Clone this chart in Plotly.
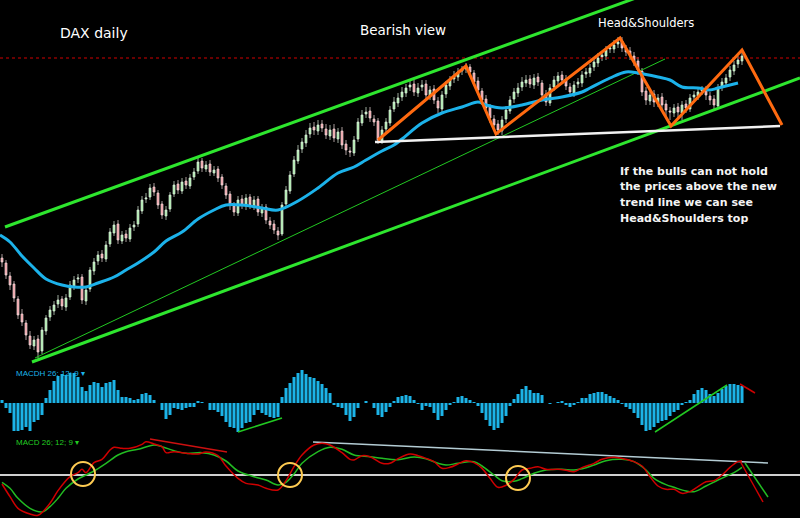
import plotly.graph_objects as go
from plotly.subplots import make_subplots

# ---- daily candles (index points), one per bar ----
bars = list(range(186))
opens = [7420, 7370, 7240, 7160, 7010, 6860, 6770, 6640, 6540, 6610,
         6490, 6690, 6830, 6890, 6960, 7010, 6930, 7030, 7140, 7210,
         7230, 6990, 7110, 7290, 7390, 7460, 7410, 7560, 7670, 7760,
         7590, 7660, 7610, 7730, 7760, 7890, 8010, 8030, 8130, 8070,
         7960, 7840, 7910, 8060, 8160, 8090, 8190, 8140, 8230, 8290,
         8390, 8310, 8360, 8270, 8310, 8230, 8140, 8060, 7940, 7870,
         8010, 7940, 8030, 7940, 8010, 7870, 7930, 7790, 7760, 7690,
         7660, 7960, 8090, 8260, 8390, 8510, 8570, 8660, 8730, 8690,
         8760, 8710, 8640, 8710, 8610, 8690, 8560, 8490, 8470, 8610,
         8770, 8860, 8890, 8810, 8790, 8590, 8710, 8770, 8910, 8970,
         9030, 9070, 9130, 9160, 9070, 9130, 9160, 9040, 9110, 8990,
         8910, 9060, 9140, 9210, 9230, 9290, 9310, 9330, 9270, 9190,
         9090, 9010, 8930, 8810, 8760, 8690, 8810, 8890, 9010, 9070,
         9130, 9170, 9210, 9150, 9230, 9170, 9060, 8970, 9130, 9190,
         9250, 9210, 9130, 9070, 9160, 9170, 9260, 9270, 9330, 9370,
         9430, 9440, 9510, 9510, 9560, 9590, 9510, 9490, 9440, 9390,
         9290, 9090, 8990, 9060, 8970, 9030, 8960, 8890, 8870, 8930,
         8870, 8960, 8910, 9030, 9040, 9090, 9110, 9040, 9010, 8940,
         9130, 9170, 9230, 9290, 9360, 9390]
highs = [7460, 7400, 7280, 7190, 7040, 6910, 6800, 6690, 6640, 6650,
         6730, 6850, 6940, 6990, 7050, 7040, 7060, 7190, 7240, 7260,
         7260, 7130, 7330, 7420, 7490, 7500, 7590, 7720, 7790, 7800,
         7690, 7700, 7760, 7790, 7940, 8040, 8070, 8160, 8170, 8100,
         7990, 7940, 8080, 8190, 8200, 8220, 8230, 8260, 8320, 8430,
         8420, 8390, 8400, 8340, 8340, 8260, 8170, 8090, 7980, 8040,
         8050, 8060, 8060, 8040, 8040, 7960, 7960, 7830, 7800, 7730,
         7980, 8140, 8290, 8440, 8550, 8620, 8700, 8770, 8780, 8800,
         8800, 8760, 8750, 8760, 8720, 8730, 8600, 8530, 8640, 8820,
         8900, 8930, 8930, 8850, 8820, 8740, 8820, 8940, 9030, 9070,
         9130, 9160, 9200, 9200, 9170, 9200, 9200, 9140, 9150, 9030,
         9090, 9190, 9240, 9290, 9320, 9340, 9370, 9360, 9300, 9230,
         9120, 9050, 8960, 8850, 8800, 8840, 8940, 9040, 9120, 9170,
         9230, 9250, 9250, 9260, 9270, 9200, 9100, 9160, 9240, 9280,
         9290, 9250, 9170, 9190, 9220, 9290, 9320, 9360, 9420, 9470,
         9490, 9540, 9560, 9600, 9630, 9630, 9550, 9530, 9480, 9430,
         9320, 9130, 9090, 9100, 9060, 9070, 9000, 8930, 8960, 8970,
         8990, 9000, 9060, 9090, 9130, 9140, 9140, 9080, 9050, 9160,
         9220, 9260, 9340, 9390, 9440, 9480]
lows = [7330, 7210, 7100, 6980, 6810, 6740, 6600, 6510, 6500, 6420,
        6460, 6650, 6790, 6850, 6920, 6900, 6890, 7000, 7100, 7170,
        6960, 6950, 7080, 7250, 7350, 7380, 7380, 7530, 7640, 7560,
        7560, 7580, 7580, 7690, 7730, 7860, 7970, 8000, 8040, 7910,
        7810, 7800, 7880, 8030, 8060, 8060, 8110, 8110, 8200, 8260,
        8280, 8280, 8240, 8240, 8180, 8110, 8010, 7900, 7840, 7840,
        7910, 7900, 7910, 7900, 7840, 7830, 7760, 7710, 7660, 7600,
        7640, 7930, 8060, 8230, 8360, 8470, 8530, 8620, 8650, 8650,
        8680, 8610, 8600, 8580, 8570, 8510, 8450, 8430, 8440, 8580,
        8740, 8820, 8780, 8740, 8560, 8560, 8680, 8740, 8880, 8930,
        8990, 9030, 9090, 9040, 9030, 9090, 9000, 9000, 8960, 8870,
        8880, 9020, 9100, 9170, 9190, 9250, 9270, 9240, 9140, 9050,
        8950, 8870, 8770, 8700, 8650, 8650, 8770, 8860, 8970, 9030,
        9090, 9130, 9120, 9110, 9140, 9000, 8940, 8940, 9090, 9150,
        9160, 9100, 9030, 9030, 9120, 9130, 9220, 9230, 9290, 9330,
        9390, 9400, 9470, 9470, 9520, 9480, 9440, 9400, 9340, 9250,
        9040, 8950, 8950, 8930, 8930, 8900, 8820, 8800, 8830, 8810,
        8800, 8870, 8880, 8990, 9000, 9050, 9000, 8950, 8890, 8910,
        9090, 9130, 9190, 9250, 9320, 9350]
closes = [7380, 7250, 7150, 7020, 6850, 6780, 6650, 6550, 6600, 6480,
          6700, 6820, 6900, 6950, 7000, 6940, 7020, 7150, 7200, 7220,
          7000, 7100, 7300, 7380, 7450, 7420, 7550, 7680, 7750, 7600,
          7650, 7620, 7720, 7750, 7900, 8000, 8020, 8120, 8080, 7950,
          7850, 7900, 8050, 8150, 8100, 8180, 8150, 8220, 8280, 8380,
          8320, 8350, 8280, 8300, 8220, 8150, 8050, 7950, 7880, 8000,
          7950, 8020, 7950, 8000, 7880, 7920, 7800, 7750, 7700, 7650,
          7950, 8100, 8250, 8400, 8500, 8580, 8650, 8720, 8700, 8750,
          8720, 8650, 8700, 8620, 8680, 8550, 8500, 8480, 8600, 8780,
          8850, 8880, 8820, 8780, 8600, 8700, 8780, 8900, 8980, 9020,
          9080, 9120, 9150, 9080, 9120, 9150, 9050, 9100, 9000, 8920,
          9050, 9150, 9200, 9240, 9280, 9300, 9320, 9280, 9180, 9100,
          9000, 8920, 8820, 8750, 8700, 8800, 8900, 9000, 9080, 9120,
          9180, 9200, 9160, 9220, 9180, 9050, 8980, 9120, 9200, 9240,
          9200, 9140, 9080, 9150, 9180, 9250, 9280, 9320, 9380, 9420,
          9450, 9500, 9520, 9550, 9580, 9520, 9480, 9450, 9380, 9300,
          9080, 9000, 9050, 8980, 9020, 8950, 8900, 8880, 8920, 8880,
          8950, 8920, 9020, 9050, 9080, 9100, 9050, 9000, 8950, 9120,
          9180, 9220, 9300, 9350, 9400, 9440]

# moving average (blue), read at sample bars
ma_x = [-0.5, 2, 5, 8, 11, 15, 18, 21, 24, 28, 31, 34, 38, 41, 45, 49, 53, 56, 60, 65,
        69, 74, 79, 84, 88, 91, 95, 98, 100, 105, 110, 115, 119, 121, 125, 130, 135,
        140, 145, 147, 152, 156, 159, 164, 167, 170, 174, 177, 179, 182, 184]
ma_v = [7650, 7580, 7440, 7320, 7210, 7150, 7130, 7130, 7170, 7230, 7300, 7370, 7480,
        7590, 7680, 7810, 7900, 7950, 7950, 7920, 7900, 7990, 8120, 8270, 8330, 8400,
        8490, 8550, 8610, 8770, 8870, 8930, 8980, 8950, 8920, 8950, 9000, 9030, 9080,
        9120, 9220, 9280, 9270, 9230, 9200, 9130, 9120, 9100, 9120, 9150, 9170]

# MACD histogram, one value per bar
macdh = [3, -5, -10, -28, -28, -27, -24, -28, -19, -17,
         -12, 5, 13, 22, 27, 29, 28, 30, 30, 26,
         16, 12, 18, 21, 20, 16, 20, 21, 23, 13,
         6, 6, 5, 3, 4, 9, 10, 8, 3, 0,
         -7, -16, -12, -5, -6, -7, -5, -4, -4, 2,
         1, 0, -7, -7, -9, -13, -19, -24, -25, -29,
         -25, -20, -19, -12, -7, -10, -12, -14, -15, -14,
         6, 15, 20, 26, 30, 33, 29, 26, 25, 22,
         19, 15, 10, -2, -4, -5, -12, -18, -14, -5,
         0, 2, 0, -5, -12, -14, -9, -4, 2, 6,
         7, 8, 7, 3, -1, -7, -3, -4, -10, -17,
         -13, -7, -2, 1, 6, 7, 5, 3, 1, -3,
         -10, -17, -23, -27, -25, -20, -13, -3, 4, 9,
         14, 17, 13, 10, 10, 8, 0, -1, 0, 1,
         2, -2, -4, -2, 1, 5, 5, 9, 10, 11,
         11, 9, 7, 5, 3, -1, -4, -6, -10, -15,
         -22, -28, -27, -24, -20, -18, -17, -13, -9, -7,
         -2, 1, 3, 9, 13, 15, 13, 9, 7, 10,
         14, 17, 19, 19, 18, 17]

# MACD (red) and signal (green)
macd_x = [0, 2, 4, 7, 9, 12, 14, 17, 19, 20, 21, 23, 25, 27, 28, 30, 32, 35, 36, 38,
          40, 41, 43, 46, 49, 51, 54, 56, 59, 61, 64, 66, 69, 71, 73, 75, 78, 80, 82,
          85, 87, 88, 90, 92, 95, 97, 99, 102, 104, 106, 108, 110, 112, 114, 116, 118,
          120, 122, 124, 126, 128, 130, 132, 134, 136, 139, 141, 143, 145, 148, 150,
          153, 156, 158, 160, 162, 164, 166, 168, 170, 172, 174, 176, 178, 180, 182,
          184, 185]
macd_v = [-27, -65, -100, -117, -121, -85, -47, -5, 7, 17, 7, 37, 47, 75, 83, 80, 80,
          92, 100, 93, 85, 67, 70, 65, 63, 69, 58, 27, -10, -25, -30, -40, -45, -17,
          25, 60, 90, 95, 90, 67, 47, 45, 58, 55, 35, 35, 49, 63, 58, 50, 40, 20, 23,
          33, 43, 37, 20, -10, -37, -31, -13, 15, 20, 25, 17, 17, 14, 10, 22, 35, 47,
          53, 47, 40, 27, -5, -33, -43, -43, -55, -50, -35, -20, -17, 0, 23, 40, 43]
signal_x = [0, 2, 4, 7, 10, 12, 14, 16, 19, 21, 23, 26, 29, 31, 34, 38, 40, 43, 46,
            50, 53, 56, 59, 63, 66, 69, 71, 73, 75, 79, 82, 85, 88, 92, 95, 99, 103,
            106, 109, 111, 114, 118, 120, 123, 125, 128, 130, 133, 136, 140, 143, 146,
            148, 151, 155, 158, 161, 163, 166, 168, 171, 173, 176, 179, 183, 185]
signal_v = [-22, -40, -70, -100, -111, -95, -70, -40, -12, 0, 12, 35, 60, 70, 77, 90,
            85, 73, 65, 67, 60, 42, 12, -5, -15, -30, -22, 3, 35, 70, 83, 77, 60, 55,
            50, 46, 54, 49, 35, 30, 35, 40, 27, 0, -17, -19, -11, 5, 15, 17, 15, 22,
            30, 43, 47, 40, 15, -10, -29, -37, -48, -50, -33, -15, 7, 23]

# hand-drawn analysis on the price panel
upper_x, upper_y = [0.75, 199.5], [7730, 10616]
lower_x, lower_y = [7.5, 199.5], [6380, 9220]
thin_x, thin_y = [8.25, 165.75], [6420, 9410]
neck_x, neck_y = [93.25, 194.5], [8580, 8740]
hs_x = [94, 116, 123.5, 154.5, 167.25, 185, 195]
hs_y = [8600, 9340, 8660, 9620, 8740, 9500, 8750]
resist = 9420

# hand-drawn analysis on the indicator panels
hg1_x, hg1_y = [59, 70], [-29, -15]
hg2_x, hg2_y = [163.25, 181.25], [-29, 18]
hr_x, hr_y = [184.5, 188.25], [19, 10]
red_drop_x, red_drop_y = [184.5, 190.25], [42, -81]
grn_drop_x, grn_drop_y = [185.75, 191.5], [36, -66]
gray_x, gray_y = [77.75, 191.5], [99, 36]
red_tr_x, red_tr_y = [37, 56.25], [108, 69]
circ_x, circ_y = [20.25, 72, 129], [3, 0, -9]

note_lines = ["If the bulls can not hold", "the prices above the new",
              "trend line we can see", "Head&Shoulders top"]

GREEN = "#2ee62e"

fig = make_subplots(rows=3, cols=1, shared_xaxes=True, vertical_spacing=0,
                    row_heights=[365, 70, 83])


def line(x, y, color, width, row, dash="solid", shape="linear"):
    fig.add_trace(go.Scatter(x=x, y=y, mode="lines", hoverinfo="skip",
                             line=dict(color=color, width=width, dash=dash, shape=shape)),
                  row=row, col=1)


# price panel
line([-0.5, 199.5], [resist, resist], "#d00000", 1.2, 1, dash="dot")
line(thin_x, thin_y, "#22c822", 1, 1)
line(upper_x, upper_y, GREEN, 3, 1)
line(lower_x, lower_y, GREEN, 3, 1)
fig.add_trace(go.Candlestick(
    x=bars, open=opens, high=highs, low=lows, close=closes, whiskerwidth=0,
    increasing=dict(line=dict(color="#dcefdc", width=0.7), fillcolor="#a6eca6"),
    decreasing=dict(line=dict(color="#f0dcdc", width=0.7), fillcolor="#f2979f"),
), row=1, col=1)
line(ma_x, ma_v, "#1cb2ea", 3, 1, shape="spline")
line(neck_x, neck_y, "#f2f2f2", 2.5, 1)
line(hs_x, hs_y, "#ff6a10", 3, 1)

# MACD histogram panel
fig.add_trace(go.Bar(x=bars, y=macdh, marker=dict(color="#1cb4e8", line_width=0),
                     hoverinfo="skip"), row=2, col=1)
line(hg1_x, hg1_y, "#22c822", 1.5, 2)
line(hg2_x, hg2_y, "#22c822", 1.5, 2)
line(hr_x, hr_y, "#cc0000", 1.5, 2)

# MACD panel
line([-0.5, 199.5], [0, 0], "#cfcfcf", 2, 3)
line(gray_x, gray_y, "#b4ccd4", 1.5, 3)
line(red_tr_x, red_tr_y, "#cc1010", 1.5, 3)
line(signal_x, signal_v, "#22bb22", 1.5, 3, shape="spline")
line(macd_x, macd_v, "#d00000", 1.5, 3, shape="spline")
line(red_drop_x, red_drop_y, "#d00000", 1.5, 3)
line(grn_drop_x, grn_drop_y, "#22bb22", 1.5, 3)
fig.add_trace(go.Scatter(x=circ_x, y=circ_y, mode="markers", hoverinfo="skip",
                         marker=dict(symbol="circle-open", size=24,
                                     line=dict(color="#f6eaa0", width=2))),
              row=3, col=1)


def px(x):
    return x / 800


def py(y):
    return 1 - y / 518


texts = [
    ("DAX daily", 58, 33, 14, "DejaVu Sans", "#ffffff"),
    ("Bearish view", 358, 30, 13.5, "DejaVu Sans", "#ffffff"),
    ("Head&Shoulders", 596, 23, 11.5, "DejaVu Sans", "#ffffff"),
    ("MACDH 26; 12; 9 ▾", 14, 373, 8, "Liberation Sans", "#1cb4e8"),
    ("MACD 26; 12; 9 ▾", 14, 442, 8, "Liberation Sans", "#22cc22"),
]
for t, x, y, s, f, c in texts:
    fig.add_annotation(text=t, x=px(x), y=py(y), xref="paper", yref="paper",
                       xanchor="left", yanchor="middle", showarrow=False,
                       font=dict(size=s, family=f, color=c))
for k, t in enumerate(note_lines):
    fig.add_annotation(text="<b>" + t + "</b>", x=px(618), y=py(171 + 15.7 * k),
                       xref="paper", yref="paper", xanchor="left", yanchor="middle",
                       showarrow=False,
                       font=dict(size=11, family="DejaVu Sans", color="#f4f4f4"))

fig.update_layout(
    width=800, height=518, margin=dict(l=0, r=0, t=0, b=0),
    paper_bgcolor="black", plot_bgcolor="black", showlegend=False,
    bargap=0.25, hovermode=False,
)
fig.update_xaxes(range=[-0.5, 199.5], visible=False, showgrid=False,
                 rangeslider_visible=False)
fig.update_yaxes(visible=False, showgrid=False, zeroline=False)
fig.update_yaxes(range=[6350, 10000], row=1, col=1)
fig.update_yaxes(range=[-32, 38], row=2, col=1)
fig.update_yaxes(range=[-129, 120], row=3, col=1)

# page body has a default 8px margin; drop it so the chart sits flush
fig.write_html("out.html", config={"displayModeBar": False},
               post_script="document.body.style.margin='0';")
